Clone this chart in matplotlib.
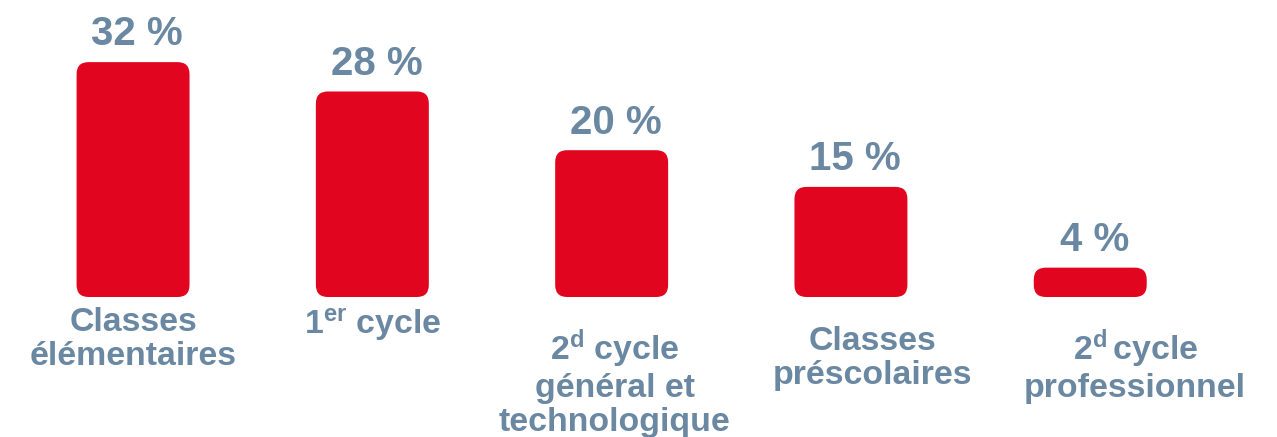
import numpy as np
import matplotlib
matplotlib.use('Agg')
import matplotlib.pyplot as plt
from matplotlib.patches import FancyBboxPatch

# data
categories = ["Classes\nélémentaires",
              "1$^{\\mathrm{er}}$ cycle",
              "2$^{\\mathrm{d}}$ cycle\ngénéral et\ntechnologique",
              "Classes\npréscolaires",
              "2$^{\\mathrm{d}}\\,$cycle\nprofessionnel"]
shares = [32, 28, 20, 15, 4]

red = '#E2051F'
blue_grey = '#6B88A2'

plt.rcParams['font.family'] = ['Liberation Sans', 'DejaVu Sans']
plt.rcParams['font.weight'] = 'bold'
plt.rcParams['mathtext.fontset'] = 'custom'
plt.rcParams['mathtext.rm'] = 'Liberation Sans:bold'
plt.rcParams['mathtext.it'] = 'Liberation Sans:bold'
plt.rcParams['mathtext.bf'] = 'Liberation Sans:bold'

W, H = 1277, 437
fig = plt.figure(figsize=(W / 100, H / 100), dpi=100)
ax = fig.add_axes([13.4 / W, 0, 1196.5 / W, 1])
px_per_x = 239.3
px_per_y = 7.34
ax.set_xlim(-0.5, 4.5)
ax.set_ylim(-140 / px_per_y, (H - 140) / px_per_y)
ax.axis('off')

bar_w = 0.472
x = np.arange(len(shares))
for xi, v in zip(x, shares):
    box = FancyBboxPatch((xi - bar_w / 2, 0), bar_w, v,
                         boxstyle="round,pad=0,rounding_size=0.05",
                         mutation_aspect=px_per_x / px_per_y,
                         fc=red, ec='none')
    ax.add_patch(box)
    ax.annotate(f"{v} %", (xi, v), xytext=(3, 12), textcoords='offset points',
                ha='center', va='baseline', fontsize=29, color=blue_grey,
                fontweight='bold')

# label placement tweaks (pixels): x shift, drop below baseline
label_dx = [0, 0, 3, 22, 45]
label_dy = [10, 9, 30, 29, 30]
for xi, lab, dx, dy in zip(x, categories, label_dx, label_dy):
    ax.annotate(lab, (xi, 0), xytext=(dx * 0.72, -dy * 0.72),
                textcoords='offset points', ha='center', va='top',
                multialignment='center', fontsize=24.4, color=blue_grey,
                fontweight='bold', linespacing=1.13)

fig.savefig('out.png', dpi=100)
